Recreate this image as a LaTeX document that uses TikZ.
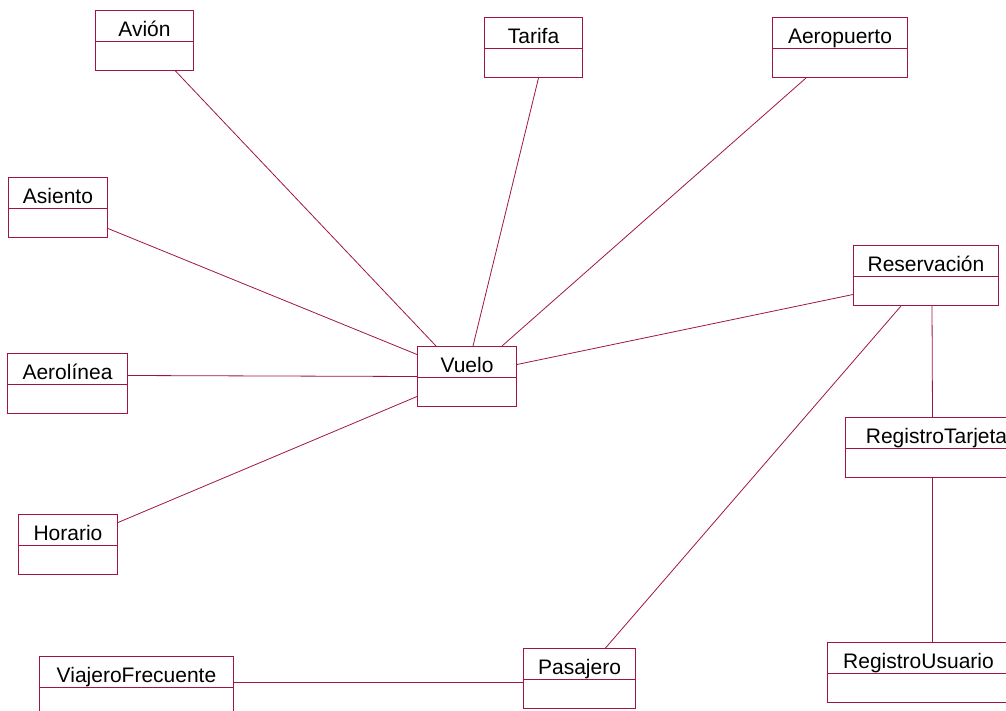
\documentclass[tikz,border=0pt]{standalone}
\usepackage{fontspec}
\setmainfont{Liberation Sans}
\definecolor{umlred}{RGB}{160,20,70}

\tikzset{
  clase/.style={draw=umlred, line width=1pt, anchor=north west,
    inner xsep=0pt, inner ysep=5pt, text height=21pt, text depth=29pt,
    font=\fontsize{21}{25}\selectfont,
    path picture={\draw[umlred, line width=1pt]
      ([yshift=-31pt]path picture bounding box.north west) --
      ([yshift=-31pt]path picture bounding box.north east);}},
  asoc/.style={umlred, line width=0.8pt}
}

\begin{document}
\begin{tikzpicture}[x=1pt, y=-1pt]
\clip (0,0) rectangle (1006,711);

% clases
\node[clase, minimum width=98pt] (avion) at (95,10) {Avión};
\node[clase, minimum width=98pt] (tarifa) at (484,17) {Tarifa};
\node[clase, minimum width=135pt] (aeropuerto) at (772,17) {Aeropuerto};
\node[clase, minimum width=99pt] (asiento) at (8,177) {Asiento};
\node[clase, minimum width=120pt] (aerolinea) at (7,353) {Aerolínea};
\node[clase, minimum width=99pt] (horario) at (18,514) {Horario};
\node[clase, minimum width=99pt] (vuelo) at (417,346) {Vuelo};
\node[clase, minimum width=145pt] (reservacion) at (853,245) {Reservación};
\node[clase, minimum width=182pt] (tarjeta) at (845,417) {RegistroTarjeta};
\node[clase, minimum width=182pt] (usuario) at (827,642) {RegistroUsuario};
\node[clase, minimum width=112pt] (pasajero) at (523,648) {Pasajero};
\node[clase, minimum width=194pt] (viajero) at (39,656) {ViajeroFrecuente};

% asociaciones
\draw[asoc] ([xshift=31pt]avion.south) -- ([xshift=-31pt]vuelo.north);
\draw[asoc] ([xshift=5pt]tarifa.south) -- ([xshift=6pt]vuelo.north);
\draw[asoc] ([xshift=-34pt]aeropuerto.south) -- ([xshift=35pt]vuelo.north);
\draw[asoc] ([yshift=-21pt]asiento.east) -- ([yshift=22pt]vuelo.west);
\draw[asoc] ([yshift=8pt]aerolinea.east) -- ([yshift=0pt]vuelo.west);
\draw[asoc] ([yshift=22pt]horario.east) -- ([yshift=-20pt]vuelo.west);
\draw[asoc] ([yshift=-19pt]reservacion.west) -- ([yshift=12pt]vuelo.east);
\draw[asoc] ([xshift=-25pt]reservacion.south) -- ([xshift=26pt]pasajero.north);
\draw[asoc] ([xshift=6pt]reservacion.south) -- ([xshift=-4pt]tarjeta.north);
\draw[asoc] ([xshift=-4pt]tarjeta.south) -- ([xshift=14pt]usuario.north);
\draw[asoc] ([yshift=4pt]viajero.east) -- ([yshift=-4pt]pasajero.west);

\end{tikzpicture}
\end{document}
